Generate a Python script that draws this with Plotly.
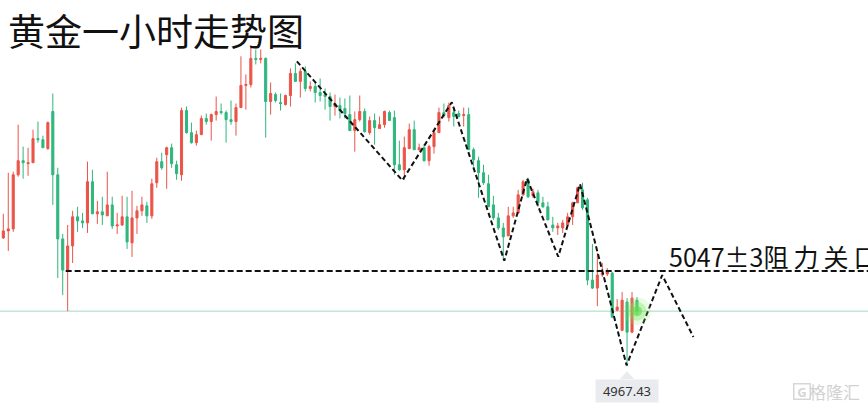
import plotly.graph_objects as go

# ---------------- data (hourly gold) ----------------
opens = [5074.7, 5080.6, 5082.3, 5127.6, 5139.4, 5136.9, 5137.7, 5157.9, 5157.0, 5149.5,
         5180.6, 5127.6, 5073.9, 5047.8, 5068.0, 5092.4, 5089.0, 5087.3, 5121.8, 5094.9,
         5096.6, 5093.2, 5102.4, 5084.8, 5085.6, 5092.4, 5070.6, 5091.5, 5097.4, 5101.6,
         5093.2, 5120.9, 5138.6, 5144.4, 5150.3, 5136.0, 5127.6, 5181.4, 5162.9, 5154.5,
         5161.2, 5174.7, 5172.2, 5178.0, 5180.6, 5179.7, 5173.8, 5172.2, 5183.9, 5202.4,
         5203.2, 5225.1, 5224.2, 5225.1, 5189.0, 5194.8, 5188.1, 5186.4, 5194.0, 5212.5,
         5205.8, 5214.2, 5199.9, 5201.6, 5196.5, 5194.8, 5193.2, 5184.8, 5185.6, 5183.1,
         5178.0, 5164.6, 5173.8, 5180.6, 5162.9, 5173.0, 5166.3, 5169.6, 5179.7, 5175.5,
         5136.0, 5131.8, 5149.5, 5165.4, 5148.6, 5150.3, 5139.4, 5151.2, 5162.9, 5179.7,
         5175.5, 5179.7, 5178.9, 5177.2, 5178.0, 5148.6, 5139.4, 5129.3, 5120.1, 5102.4,
         5091.5, 5083.1, 5076.4, 5093.2, 5095.7, 5110.8, 5123.4, 5110.0, 5112.5, 5104.1,
         5100.8, 5085.6, 5083.1, 5083.1, 5085.6, 5092.4, 5104.1, 5115.0, 5106.6, 5039.4,
         5032.7, 5043.6, 5044.5, 5045.3, 5014.2, 4997.4, 5021.0, 4995.8, 5022.6]

highs = [5094.9, 5129.3, 5130.2, 5169.6, 5151.2, 5150.3, 5165.4, 5172.2, 5160.4, 5172.2,
         5195.7, 5133.5, 5078.1, 5085.6, 5097.4, 5100.8, 5095.7, 5138.6, 5131.8, 5105.8,
         5109.2, 5130.2, 5109.2, 5095.7, 5110.0, 5109.2, 5114.2, 5101.6, 5109.2, 5105.0,
         5124.3, 5141.9, 5146.1, 5151.2, 5153.7, 5139.4, 5183.9, 5184.8, 5171.3, 5164.6,
         5177.2, 5178.9, 5178.9, 5193.2, 5187.3, 5181.4, 5189.8, 5187.3, 5226.8, 5211.6,
         5236.0, 5232.6, 5232.6, 5225.9, 5204.9, 5196.5, 5195.7, 5194.8, 5216.7, 5220.9,
         5216.7, 5218.4, 5205.8, 5205.8, 5208.3, 5199.9, 5196.5, 5194.8, 5192.3, 5191.5,
         5194.0, 5180.6, 5194.0, 5183.1, 5176.4, 5178.9, 5176.4, 5181.4, 5181.4, 5181.4,
         5156.2, 5159.6, 5170.5, 5173.0, 5153.7, 5152.8, 5152.8, 5165.4, 5183.9, 5187.3,
         5188.1, 5182.2, 5181.4, 5183.9, 5183.9, 5150.3, 5142.7, 5136.0, 5127.6, 5110.0,
         5095.7, 5087.3, 5100.8, 5100.8, 5115.0, 5123.4, 5125.1, 5115.9, 5115.0, 5109.2,
         5105.0, 5092.4, 5087.3, 5089.8, 5095.7, 5105.0, 5117.6, 5120.9, 5108.3, 5069.7,
         5062.2, 5053.7, 5049.5, 5046.2, 5023.5, 5029.4, 5024.3, 5029.4, 5025.2]

lows = [5073.9, 5063.8, 5079.8, 5126.0, 5124.3, 5126.8, 5137.7, 5154.5, 5150.3, 5148.6,
        5102.4, 5041.1, 5026.8, 5013.4, 5053.7, 5079.8, 5083.1, 5078.9, 5094.9, 5086.5,
        5085.6, 5093.2, 5082.3, 5078.1, 5084.8, 5065.5, 5058.8, 5078.1, 5093.2, 5087.3,
        5090.7, 5116.7, 5131.8, 5115.9, 5133.5, 5123.4, 5122.6, 5162.1, 5153.7, 5152.0,
        5161.2, 5169.6, 5156.2, 5173.0, 5178.0, 5154.5, 5169.6, 5160.4, 5183.9, 5182.2,
        5200.7, 5220.0, 5220.9, 5158.7, 5178.0, 5188.1, 5181.4, 5185.6, 5184.8, 5205.8,
        5192.3, 5197.4, 5197.4, 5188.1, 5189.0, 5182.2, 5173.0, 5177.2, 5174.7, 5174.7,
        5164.6, 5147.0, 5172.2, 5162.9, 5161.2, 5152.8, 5166.3, 5167.1, 5173.0, 5127.6,
        5131.0, 5123.4, 5149.5, 5148.6, 5147.8, 5138.6, 5135.2, 5145.3, 5162.9, 5175.5,
        5172.2, 5168.0, 5175.5, 5168.0, 5148.6, 5134.4, 5108.3, 5119.2, 5100.8, 5089.8,
        5081.4, 5056.2, 5076.4, 5091.5, 5094.9, 5110.0, 5108.3, 5108.3, 5100.8, 5099.9,
        5089.8, 5079.8, 5077.2, 5078.9, 5084.8, 5085.6, 5104.1, 5098.2, 5035.2, 5031.9,
        5017.6, 5042.0, 5042.8, 5007.5, 5013.4, 4996.6, 4967.43, 4994.9, 5010.0]

closes = [5080.6, 5082.3, 5127.6, 5139.4, 5137.7, 5137.7, 5157.9, 5157.0, 5150.3, 5171.3,
          5127.6, 5073.9, 5047.8, 5068.0, 5092.4, 5089.0, 5087.3, 5121.8, 5094.9, 5096.6,
          5094.0, 5102.4, 5084.8, 5085.6, 5092.4, 5071.4, 5091.5, 5097.4, 5102.4, 5093.2,
          5120.1, 5138.6, 5133.5, 5150.3, 5136.9, 5128.5, 5181.4, 5162.9, 5154.5, 5161.2,
          5174.7, 5172.2, 5178.0, 5180.6, 5179.7, 5173.8, 5172.2, 5183.9, 5202.4, 5203.2,
          5225.1, 5224.2, 5225.1, 5189.0, 5195.7, 5189.8, 5187.3, 5194.0, 5212.5, 5205.8,
          5214.2, 5199.9, 5201.6, 5196.5, 5194.0, 5193.2, 5184.8, 5187.3, 5181.4, 5178.9,
          5164.6, 5173.8, 5180.6, 5163.7, 5173.0, 5167.1, 5169.6, 5180.6, 5173.0, 5136.0,
          5131.8, 5150.3, 5165.4, 5148.6, 5150.3, 5139.4, 5151.2, 5162.9, 5179.7, 5177.2,
          5185.6, 5176.4, 5176.4, 5178.0, 5148.6, 5140.2, 5129.3, 5120.9, 5100.8, 5091.5,
          5083.1, 5075.6, 5093.2, 5095.7, 5110.8, 5121.8, 5109.2, 5113.4, 5104.1, 5100.8,
          5089.8, 5083.1, 5084.8, 5087.3, 5092.4, 5104.1, 5116.7, 5099.9, 5039.4, 5032.7,
          5043.6, 5045.3, 5046.2, 5008.4, 5016.8, 5022.6, 4995.8, 5024.3, 5013.4]

bars = list(range(len(closes)))

# hand-drawn trend (zigzag) in (bar index, price)
trend_x = [59.3, 80.6, 90.6, 101.2, 105.8, 112.1, 116.5, 125.9, 133.1, 139.4]
trend_y = [5222.6, 5123.0, 5188.4, 5055.6, 5124.5, 5059.0, 5119.8, 4968.0, 5043.6, 4991.8]

resist_level = 5047.0
resist_start = 12.6
resist_text = "5047±3阻\u2009力\u2009关\u2009口"
low_label = "4967.43"
title_text = "黄金一小时走势图"

RED = "#ea5448"
GREEN = "#2fb67e"

fig = go.Figure()

fig.add_trace(go.Candlestick(
    x=bars, open=opens, high=highs, low=lows, close=closes,
    increasing=dict(line=dict(color=RED, width=1), fillcolor=RED),
    decreasing=dict(line=dict(color=GREEN, width=1), fillcolor=GREEN),
    whiskerwidth=0, showlegend=False, hoverinfo="skip"))

# zigzag trend line
fig.add_trace(go.Scatter(
    x=trend_x, y=trend_y, mode="lines",
    line=dict(color="#111111", width=2, dash="5px,3px"),
    showlegend=False, hoverinfo="skip"))

# resistance line
fig.add_trace(go.Scatter(
    x=[resist_start, 200], y=[resist_level, resist_level], mode="lines",
    line=dict(color="#111111", width=2, dash="6px,3px"),
    showlegend=False, hoverinfo="skip"))

# glow at the last price
last_i = bars[-1]
last_c = closes[-1]
for sz, col in [(28, "rgba(150,235,120,0.20)"), (19, "rgba(120,228,95,0.35)"),
                (10, "rgba(95,220,80,0.65)")]:
    fig.add_trace(go.Scatter(x=[last_i], y=[last_c], mode="markers",
                             marker=dict(size=sz, color=col, line=dict(width=0)),
                             showlegend=False, hoverinfo="skip"))

# current price line
fig.add_shape(type="line", xref="paper", x0=0, x1=1, yref="y", y0=last_c, y1=last_c,
              line=dict(color="#a3d9c3", width=1), layer="below")

# low label pointer + box
low_i = min(bars, key=lambda i: lows[i])
fig.add_shape(type="path", xref="x", yref="y", xsizemode="pixel", ysizemode="pixel",
              xanchor=low_i, yanchor=lows[low_i],
              path="M -7,-13 L 0,-5 L 7,-13 Z",
              fillcolor="#e9ebee", line=dict(width=0))
fig.add_annotation(x=low_i, y=lows[low_i], xref="x", yref="y", text=low_label,
                   showarrow=False, yanchor="top", yshift=-13, width=60, height=20,
                   bgcolor="#e9ebee", borderpad=1,
                   font=dict(family="Noto Sans, sans-serif", size=13, color="#333333"))

# resistance text
fig.add_annotation(x=134.0, y=5059.6, xref="x", yref="y", text=resist_text,
                   showarrow=False, xanchor="left", yanchor="middle",
                   font=dict(family="Noto Sans CJK SC", size=25, color="#111111"))

# title
fig.add_annotation(x=6 / 868, y=1 - 1 / 410, xref="paper", yref="paper", text=title_text,
                   showarrow=False, xanchor="left", yanchor="top",
                   font=dict(family="Noto Sans CJK SC", size=37, color="#111111"))

# watermark
fig.add_annotation(x=802 / 868, y=18.5 / 410, xref="paper", yref="paper", text="<b>G</b>",
                   showarrow=False, xanchor="center", yanchor="middle",
                   width=15, height=14,
                   bordercolor="#d6d6d6", borderwidth=1.5, borderpad=0,
                   font=dict(family="Noto Sans", size=13, color="#d6d6d6"))
fig.add_annotation(x=1 - 6 / 868, y=18.5 / 410, xref="paper", yref="paper", text="格隆汇",
                   showarrow=False, xanchor="right", yanchor="middle",
                   font=dict(family="Noto Sans CJK SC", size=17, color="#d2d2d2"))

fig.update_layout(
    width=868, height=410,
    margin=dict(l=0, r=0, t=0, b=0),
    paper_bgcolor="white", plot_bgcolor="white",
    boxgap=0.4,
    xaxis=dict(visible=False, range=[-0.67, 174.67], rangeslider=dict(visible=False),
               fixedrange=True),
    yaxis=dict(visible=False, range=[4930.6, 5274.0], fixedrange=True),
    hovermode=False,
)

fig.write_html("out.html", config=dict(displayModeBar=False),
               post_script="document.body.style.margin='0';document.body.style.overflow='hidden';")
